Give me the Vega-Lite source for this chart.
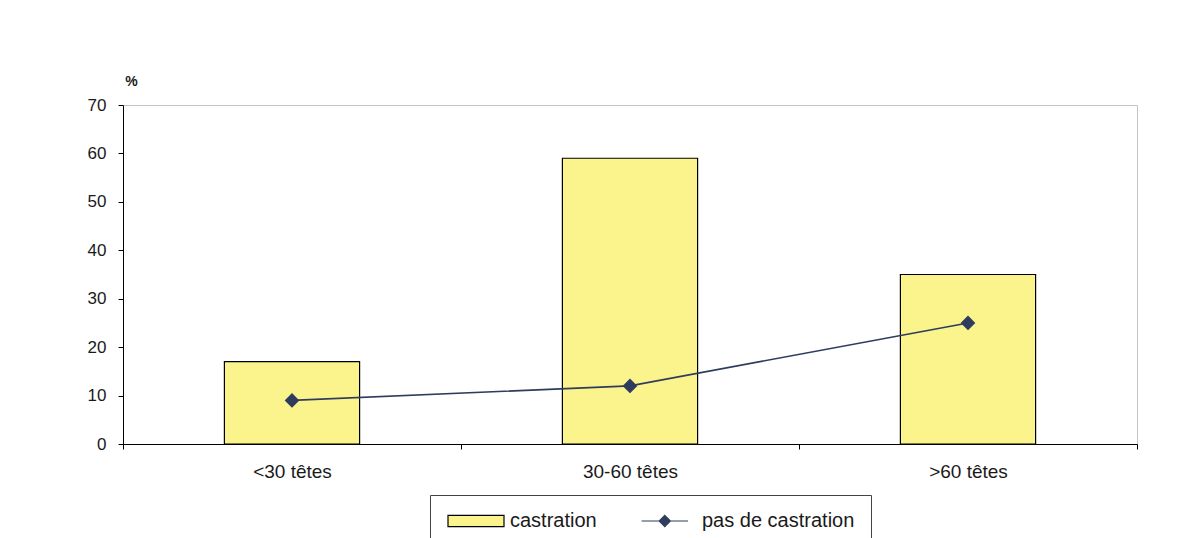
{
  "$schema": "https://vega.github.io/schema/vega-lite/v6.json",
  "width": 1014,
  "height": 339,
  "autosize": {"type": "none"},
  "padding": {"left": 123, "top": 105, "right": 49, "bottom": 94},
  "background": "white",
  "config": {
    "font": "Liberation Sans",
    "view": {"stroke": "#c4c4c4", "strokeWidth": 1}
  },
  "data": {
    "values": [
      {"taille": "<30 têtes", "serie": "castration", "pct": 17},
      {"taille": "30-60 têtes", "serie": "castration", "pct": 59},
      {"taille": ">60 têtes", "serie": "castration", "pct": 35},
      {"taille": "<30 têtes", "serie": "pas de castration", "pct": 9},
      {"taille": "30-60 têtes", "serie": "pas de castration", "pct": 12},
      {"taille": ">60 têtes", "serie": "pas de castration", "pct": 25}
    ]
  },
  "encoding": {
    "x": {
      "field": "taille",
      "type": "nominal",
      "sort": ["<30 têtes", "30-60 têtes", ">60 têtes"],
      "scale": {"paddingInner": 0, "paddingOuter": 0},
      "axis": {
        "title": null,
        "labelAngle": 0,
        "labelFontSize": 19,
        "labelColor": "#1a1a1a",
        "labelPadding": 13,
        "domainColor": "#000",
        "tickColor": "#000",
        "tickSize": 5,
        "tickBand": "extent",
        "grid": false
      }
    },
    "y": {
      "field": "pct",
      "type": "quantitative",
      "scale": {"domain": [0, 70]},
      "axis": {
        "title": "%",
        "titleAngle": 0,
        "titleFontSize": 14,
        "titleFontWeight": "bold",
        "titleColor": "#1a1a1a",
        "titleX": 8,
        "titleY": -24,
        "titleAlign": "center",
        "titleBaseline": "middle",
        "values": [0, 10, 20, 30, 40, 50, 60, 70],
        "grid": false,
        "domainColor": "#000",
        "tickColor": "#000",
        "tickSize": 5,
        "labelFontSize": 17,
        "labelColor": "#1a1a1a",
        "labelPadding": 12
      }
    },
    "fill": {
      "field": "serie",
      "type": "nominal",
      "scale": {
        "domain": ["castration", "pas de castration"],
        "range": ["#fbf38c", "#2e3c5e"]
      },
      "legend": {
        "title": null,
        "orient": "none",
        "legendX": 307,
        "legendY": 390,
        "direction": "horizontal",
        "strokeColor": "#444",
        "fillColor": "white",
        "padding": 16,
        "columnPadding": 41,
        "labelFontSize": 20,
        "labelColor": "#1a1a1a",
        "labelOffset": 44,
        "symbolSize": 256,
        "symbolStrokeWidth": 1.2,
        "encode": {
          "symbols": {
            "update": {
              "shape": {"signal": "datum.value === 'castration' ? 'M-1,-0.7H6V0.7H-1Z' : 'M-0.8,0H5M2.1,-0.7L2.8,0L2.1,0.7L1.4,0Z'"},
              "strokeWidth": {"value": 1.2},
              "opacity": {"value": 1},
              "fillOpacity": {"value": 1}
            }
          }
        }
      }
    },
    "stroke": {
      "field": "serie",
      "type": "nominal",
      "scale": {
        "domain": ["castration", "pas de castration"],
        "range": ["#000000", "#2e3c5e"]
      },
      "legend": {
        "title": null,
        "orient": "none",
        "legendX": 307,
        "legendY": 390,
        "direction": "horizontal"
      }
    }
  },
  "layer": [
    {
      "transform": [{"filter": "datum.serie === 'castration'"}],
      "mark": {"type": "bar", "width": {"band": 0.4}, "strokeWidth": 1.2}
    },
    {
      "transform": [{"filter": "datum.serie === 'pas de castration'"}],
      "mark": {"type": "line", "strokeWidth": 1.6, "fill": null},
      "encoding": {
        "x": {"field": "taille", "type": "nominal", "sort": ["<30 têtes", "30-60 têtes", ">60 têtes"], "bandPosition": 0.5},
        "fill": {"value": null}
      }
    },
    {
      "transform": [{"filter": "datum.serie === 'pas de castration'"}],
      "mark": {"type": "point", "shape": "diamond", "filled": true, "size": 140, "opacity": 1},
      "encoding": {
        "x": {"field": "taille", "type": "nominal", "sort": ["<30 têtes", "30-60 têtes", ">60 têtes"], "bandPosition": 0.5}
      }
    }
  ]
}
